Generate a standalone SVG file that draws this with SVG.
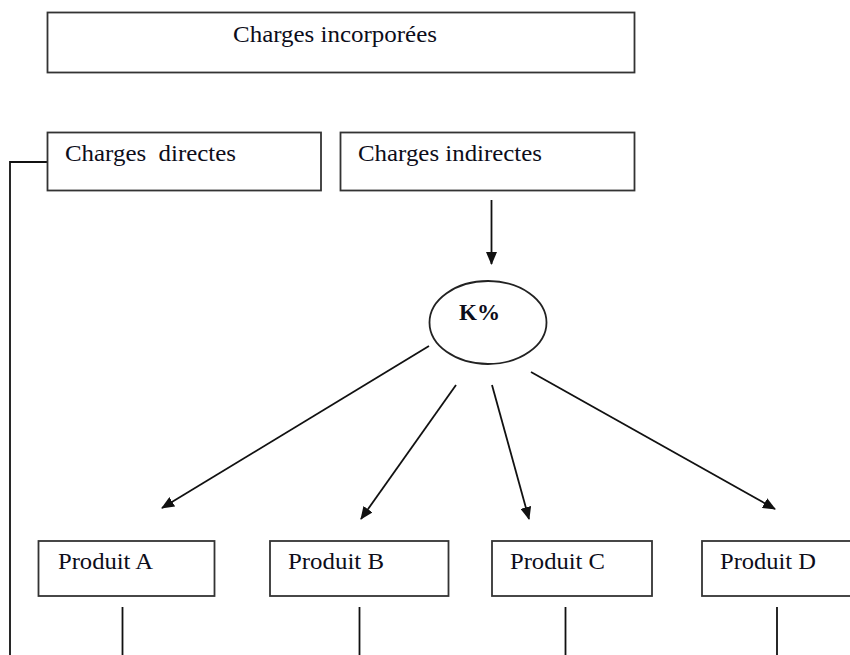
<svg xmlns="http://www.w3.org/2000/svg" width="850" height="655" viewBox="0 0 850 655">
<defs>
<style>
.box{fill:#fff;stroke:#333;stroke-width:1.8}
.t{font-family:"Liberation Serif","Times New Roman",serif;font-size:24px;fill:#0d0d1a}
.b{font-weight:bold}
.c{fill:none;stroke:#111;stroke-width:1.8}
</style>
<marker id="ah" viewBox="0 0 13 11" refX="12" refY="5.5" markerWidth="13" markerHeight="11" markerUnits="userSpaceOnUse" orient="auto">
<path d="M0,0 L13,5.5 L0,11 Z" fill="#111"/>
</marker>
</defs>
<rect width="850" height="655" fill="#fff"/>
<g id="connectors">
<path class="c" d="M47,162 H10 V655"/>
<line class="c" x1="491.5" y1="200" x2="491.5" y2="264" marker-end="url(#ah)"/>
<line class="c" x1="429" y1="346" x2="162" y2="508" marker-end="url(#ah)"/>
<line class="c" x1="456" y1="385" x2="361" y2="519" marker-end="url(#ah)"/>
<line class="c" x1="492" y1="385" x2="529" y2="519" marker-end="url(#ah)"/>
<line class="c" x1="531" y1="372" x2="775" y2="509" marker-end="url(#ah)"/>
<line class="c" x1="122.5" y1="607" x2="122.5" y2="655"/>
<line class="c" x1="359.5" y1="607" x2="359.5" y2="655"/>
<line class="c" x1="565.5" y1="607" x2="565.5" y2="655"/>
<line class="c" x1="777" y1="607" x2="777" y2="655"/>
</g>
<g id="incorporees">
<rect class="box" x="47.5" y="12.5" width="587" height="60"/>
<text class="t" x="233" y="42" textLength="204" lengthAdjust="spacingAndGlyphs">Charges incorporées</text>
</g>
<g id="directes">
<rect class="box" x="47.5" y="132.5" width="273.5" height="58"/>
<text class="t" x="65" y="161" textLength="171" lengthAdjust="spacingAndGlyphs" xml:space="preserve">Charges  directes</text>
</g>
<g id="indirectes">
<rect class="box" x="340.5" y="132.5" width="294" height="58"/>
<text class="t" x="358" y="161" textLength="184" lengthAdjust="spacingAndGlyphs">Charges indirectes</text>
</g>
<g id="k">
<ellipse cx="488" cy="322.5" rx="58.5" ry="41.5" fill="#fff" stroke="#222" stroke-width="1.8"/>
<text class="t b" x="459" y="320" textLength="41" lengthAdjust="spacingAndGlyphs">K%</text>
</g>
<g id="produitA">
<rect class="box" x="38.5" y="541" width="176" height="55"/>
<text class="t" x="58" y="569" textLength="95" lengthAdjust="spacingAndGlyphs">Produit A</text>
</g>
<g id="produitB">
<rect class="box" x="270" y="541" width="178.5" height="55"/>
<text class="t" x="288" y="569" textLength="96" lengthAdjust="spacingAndGlyphs">Produit B</text>
</g>
<g id="produitC">
<rect class="box" x="492" y="541" width="160" height="55"/>
<text class="t" x="510" y="569" textLength="95" lengthAdjust="spacingAndGlyphs">Produit C</text>
</g>
<g id="produitD">
<rect class="box" x="702" y="541" width="160" height="55"/>
<text class="t" x="720" y="569" textLength="96" lengthAdjust="spacingAndGlyphs">Produit D</text>
</g>
</svg>
